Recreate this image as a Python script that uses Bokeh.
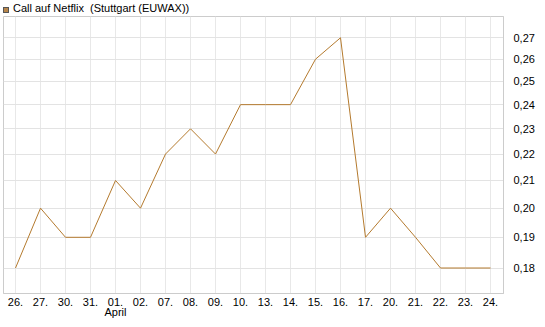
from bokeh.plotting import figure
from bokeh.models import Range1d, FixedTicker, CustomJSTickFormatter, Div
from bokeh.layouts import column
from bokeh.embed import file_html
from bokeh.resources import INLINE

dates = ["26.", "27.", "30.", "31.", "01.", "02.", "07.", "08.", "09.", "10.",
         "13.", "14.", "15.", "16.", "17.", "20.", "21.", "22.", "23.", "24."]
values = [0.18, 0.20, 0.19, 0.19, 0.21, 0.20, 0.22, 0.23, 0.22, 0.24,
          0.24, 0.24, 0.26, 0.27, 0.19, 0.20, 0.19, 0.18, 0.18, 0.18]
y_ticks = [0.18, 0.19, 0.20, 0.21, 0.22, 0.23, 0.24, 0.25, 0.26, 0.27]
month_labels = {"01.": "April"}
series_name = "Call auf Netflix&nbsp; (Stuttgart (EUWAX))"

xs = list(range(len(dates)))

p = figure(width=545, height=311, output_backend="svg", toolbar_location=None,
           y_axis_type="log", y_axis_location="right",
           x_range=Range1d(-0.48, len(dates) - 0.48),
           y_range=Range1d(0.1721, 0.2803),
           min_border_left=3, min_border_right=42, min_border_top=0, min_border_bottom=34)

p.background_fill_color = "white"
p.border_fill_color = "white"
p.outline_line_color = "#cccccc"

line_color = "#b47a2e"
p.line(xs, values, line_color=line_color, line_width=1)

# axes
xa = p.xaxis[0]
xa.ticker = FixedTicker(ticks=xs)
xa.major_label_overrides = {i: (d + "\n" + month_labels[d]) if d in month_labels else d
                            for i, d in enumerate(dates)}
xa.axis_line_color = "#cccccc"
xa.major_tick_line_color = None
xa.minor_tick_line_color = None
xa.major_label_text_font = "Liberation Sans"
xa.major_label_text_font_size = "11px"
xa.major_label_text_line_height = 0.85
xa.major_label_text_color = "#000000"
xa.major_label_standoff = -4

ya = p.yaxis[0]
ya.ticker = FixedTicker(ticks=y_ticks, minor_ticks=[])
ya.formatter = CustomJSTickFormatter(code="return tick.toFixed(2).replace('.', ',');")
ya.axis_line_color = "#cccccc"
ya.major_tick_line_color = None
ya.minor_tick_line_color = None
ya.major_label_text_font = "Liberation Sans"
ya.major_label_text_font_size = "11px"
ya.major_label_text_color = "#000000"
ya.major_label_standoff = 4

p.xgrid.grid_line_color = "#e8e8e8"
p.ygrid.grid_line_color = "#e3e3e3"
p.xgrid.ticker = FixedTicker(ticks=xs)
p.ygrid.ticker = FixedTicker(ticks=y_ticks)

legend_div = Div(
    text=('<div style="font-family:\'Liberation Sans\';font-size:11px;color:#000;'
          'line-height:14px;white-space:nowrap;padding:0 0 0 3px;margin:0;">'
          '<span style="display:inline-block;width:6px;height:6px;background:#b8864a;'
          'border:1px solid #555555;margin-right:4px;vertical-align:-1px;"></span>'
          + series_name + '</div>'),
    width=545, height=16, margin=(0, 0, 0, 0))

layout = column(legend_div, p, spacing=0, margin=(0, 0, 0, 0))

open("out.html", "w").write(file_html(layout, INLINE))
